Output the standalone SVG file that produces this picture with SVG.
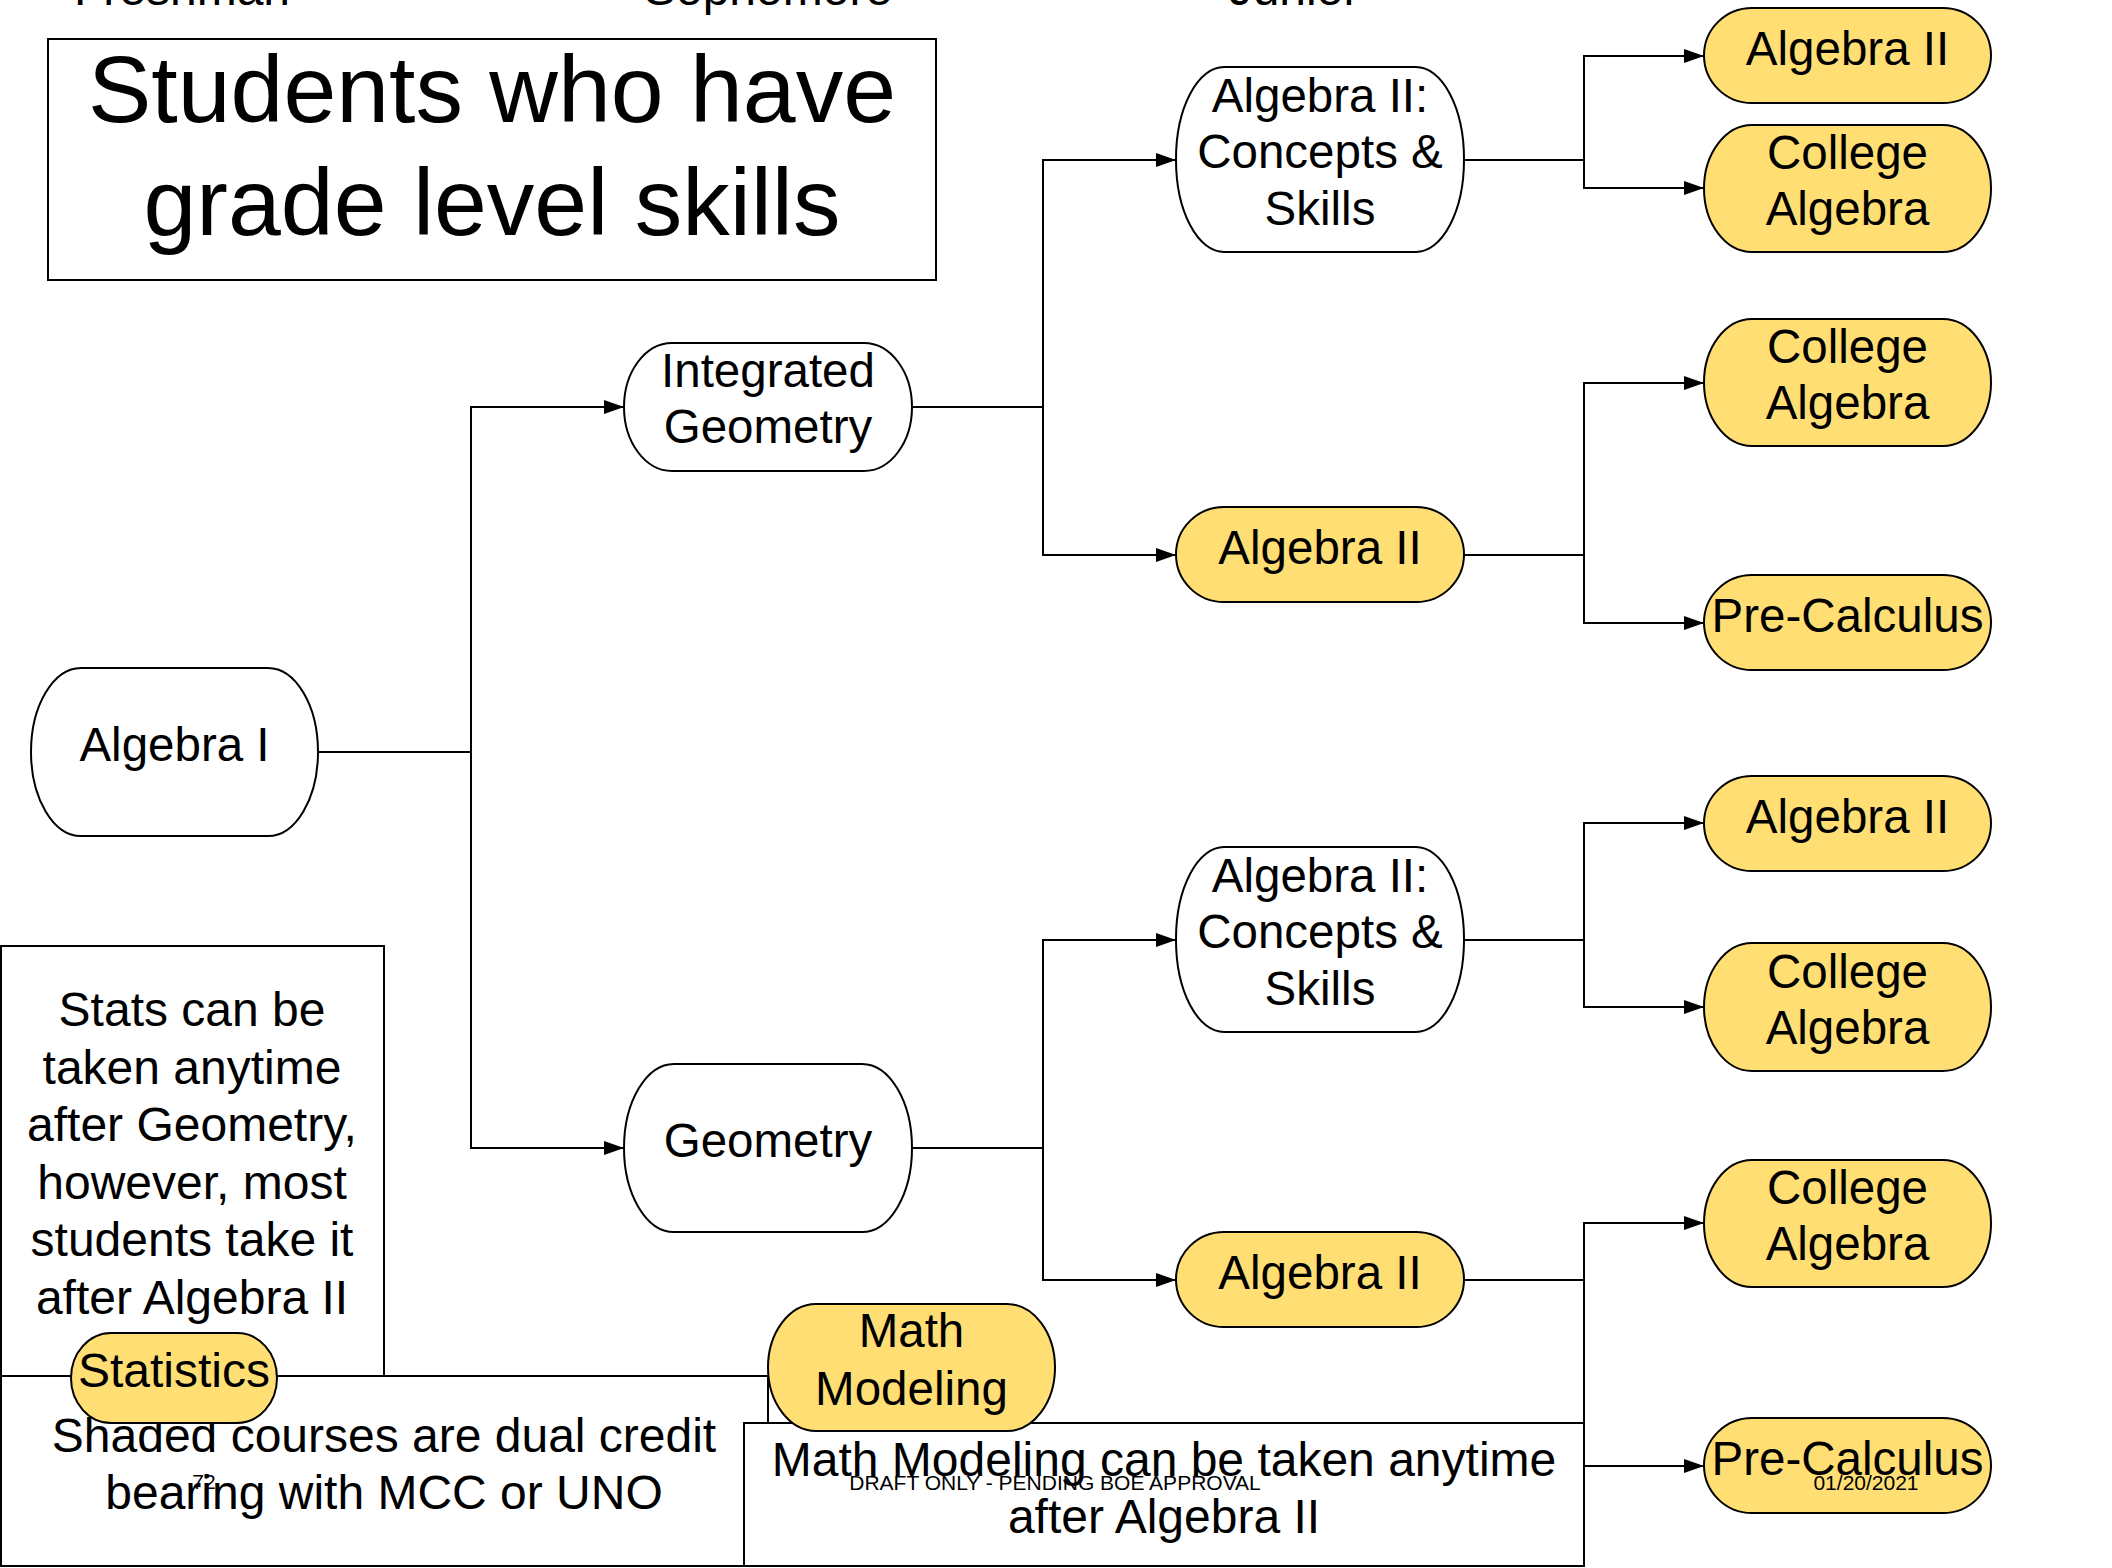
<svg xmlns="http://www.w3.org/2000/svg" width="2112" height="1568" viewBox="0 0 2112 1568">
<style>
text{font-family:"Liberation Sans",Arial,Helvetica,sans-serif;fill:#000;text-anchor:middle}
.node rect{stroke:#000;stroke-width:2}
.w{fill:#fff}
.y{fill:#FFDE74}
.t{font-size:47.5px}
.n{font-size:48px}
.box{fill:#fff;stroke:#000;stroke-width:2}
.edge{fill:none;stroke:#000;stroke-width:2}
.small{font-size:21px}
</style>
<defs>
<marker id="arr" markerUnits="userSpaceOnUse" markerWidth="20" markerHeight="14" refX="20" refY="7" orient="auto">
<path d="M0,0 L20,7 L0,14 z" fill="#000"/>
</marker>
</defs>
<rect width="2112" height="1568" fill="#fff"/>

<g id="headers">
<text class="n" x="182" y="5">Freshman</text>
<text class="n" x="768" y="5">Sophomore</text>
<text class="n" x="1294" y="5">Junior</text>
</g>

<g id="title">
<rect class="box" x="48" y="39" width="888" height="241"/>
<text x="492" y="122" font-size="95">Students who have</text>
<text x="492" y="235" font-size="95">grade level skills</text>
</g>

<g id="connectors">
<path class="edge" d="M318,752 H471 V407 H624" marker-end="url(#arr)"/>
<path class="edge" d="M471,752 V1148 H624" marker-end="url(#arr)"/>
<path class="edge" d="M912,407 H1043 V160 H1176" marker-end="url(#arr)"/>
<path class="edge" d="M1043,407 V555 H1176" marker-end="url(#arr)"/>
<path class="edge" d="M912,1148 H1043 V940 H1176" marker-end="url(#arr)"/>
<path class="edge" d="M1043,1148 V1280 H1176" marker-end="url(#arr)"/>
<path class="edge" d="M1464,160 H1584 V56 H1704" marker-end="url(#arr)"/>
<path class="edge" d="M1584,160 V188 H1704" marker-end="url(#arr)"/>
<path class="edge" d="M1464,555 H1584 V383 H1704" marker-end="url(#arr)"/>
<path class="edge" d="M1584,555 V623 H1704" marker-end="url(#arr)"/>
<path class="edge" d="M1464,940 H1584 V823 H1704" marker-end="url(#arr)"/>
<path class="edge" d="M1584,940 V1007 H1704" marker-end="url(#arr)"/>
<path class="edge" d="M1464,1280 H1584 V1223 H1704" marker-end="url(#arr)"/>
<path class="edge" d="M1584,1280 V1466 H1704" marker-end="url(#arr)"/>
</g>

<g id="algebra1" class="node">
<rect class="w" x="31" y="668" width="287" height="168" rx="50" ry="84"/>
<text class="t" x="174.5" y="761">Algebra I</text>
</g>

<g id="integrated-geometry" class="node">
<rect class="w" x="624" y="343" width="288" height="128" rx="48" ry="64"/>
<text class="t" x="768" y="387">Integrated</text>
<text class="t" x="768" y="443">Geometry</text>
</g>

<g id="geometry" class="node">
<rect class="w" x="624" y="1064" width="288" height="168" rx="50" ry="84"/>
<text class="t" x="768" y="1157">Geometry</text>
</g>

<g id="alg2cs-top" class="node">
<rect class="w" x="1176" y="67" width="288" height="185" rx="48" ry="92"/>
<text class="t" x="1320" y="112">Algebra II:</text>
<text class="t" x="1320" y="168">Concepts &amp;</text>
<text class="t" x="1320" y="225">Skills</text>
</g>

<g id="alg2-upper" class="node">
<rect class="y" x="1176" y="507" width="288" height="95" rx="48" ry="47.5"/>
<text class="t" x="1320" y="564">Algebra II</text>
</g>

<g id="alg2cs-bottom" class="node">
<rect class="w" x="1176" y="847" width="288" height="185" rx="48" ry="92"/>
<text class="t" x="1320" y="892">Algebra II:</text>
<text class="t" x="1320" y="948">Concepts &amp;</text>
<text class="t" x="1320" y="1005">Skills</text>
</g>

<g id="alg2-lower" class="node">
<rect class="y" x="1176" y="1232" width="288" height="95" rx="48" ry="47.5"/>
<text class="t" x="1320" y="1289">Algebra II</text>
</g>

<g id="r1-alg2" class="node">
<rect class="y" x="1704" y="8" width="287" height="95" rx="48" ry="47.5"/>
<text class="t" x="1847.5" y="65">Algebra II</text>
</g>

<g id="r2-college" class="node">
<rect class="y" x="1704" y="125" width="287" height="127" rx="48" ry="63.5"/>
<text class="t" x="1847.5" y="169">College</text>
<text class="t" x="1847.5" y="225">Algebra</text>
</g>

<g id="r3-college" class="node">
<rect class="y" x="1704" y="319" width="287" height="127" rx="48" ry="63.5"/>
<text class="t" x="1847.5" y="363">College</text>
<text class="t" x="1847.5" y="419">Algebra</text>
</g>

<g id="r4-precalc" class="node">
<rect class="y" x="1704" y="575" width="287" height="95" rx="48" ry="47.5"/>
<text class="t" x="1847.5" y="632">Pre-Calculus</text>
</g>

<g id="r5-alg2" class="node">
<rect class="y" x="1704" y="776" width="287" height="95" rx="48" ry="47.5"/>
<text class="t" x="1847.5" y="833">Algebra II</text>
</g>

<g id="r6-college" class="node">
<rect class="y" x="1704" y="943" width="287" height="128" rx="48" ry="64"/>
<text class="t" x="1847.5" y="988">College</text>
<text class="t" x="1847.5" y="1044">Algebra</text>
</g>

<g id="r7-college" class="node">
<rect class="y" x="1704" y="1160" width="287" height="127" rx="48" ry="63.5"/>
<text class="t" x="1847.5" y="1204">College</text>
<text class="t" x="1847.5" y="1260">Algebra</text>
</g>

<g id="r8-precalc" class="node">
<rect class="y" x="1704" y="1418" width="287" height="95" rx="48" ry="47.5"/>
<text class="t" x="1847.5" y="1475">Pre-Calculus</text>
</g>

<g id="stats-note">
<rect class="box" x="1" y="946" width="383" height="430"/>
<text class="n" x="192" y="1026">Stats can be</text>
<text class="n" x="192" y="1084">taken anytime</text>
<text class="n" x="192" y="1141">after Geometry,</text>
<text class="n" x="192" y="1199">however, most</text>
<text class="n" x="192" y="1256">students take it</text>
<text class="n" x="192" y="1314">after Algebra II</text>
</g>

<g id="shaded-note">
<rect class="box" x="1" y="1376" width="767" height="190"/>
<text class="n" x="384" y="1452">Shaded courses are dual credit</text>
<text class="n" x="384" y="1509">bearing with MCC or UNO</text>
</g>

<g id="statistics" class="node">
<rect class="y" x="71" y="1333" width="206" height="90" rx="40" ry="45"/>
<text class="n" x="174" y="1387">Statistics</text>
</g>

<g id="mathmodeling-note">
<rect class="box" x="744" y="1423" width="840" height="143"/>
<text class="n" x="1164" y="1476">Math Modeling can be taken anytime</text>
<text class="n" x="1164" y="1533">after Algebra II</text>
</g>

<g id="math-modeling" class="node">
<rect class="y" x="768" y="1304" width="287" height="127" rx="48" ry="63.5"/>
<text class="t" x="911.5" y="1347">Math</text>
<text class="t" x="911.5" y="1405">Modeling</text>
</g>

<g id="footer">
<text class="small" x="204" y="1489">72</text>
<text class="small" x="1055" y="1490">DRAFT ONLY - PENDING BOE APPROVAL</text>
<text class="small" x="1866" y="1490">01/20/2021</text>
</g>
</svg>
